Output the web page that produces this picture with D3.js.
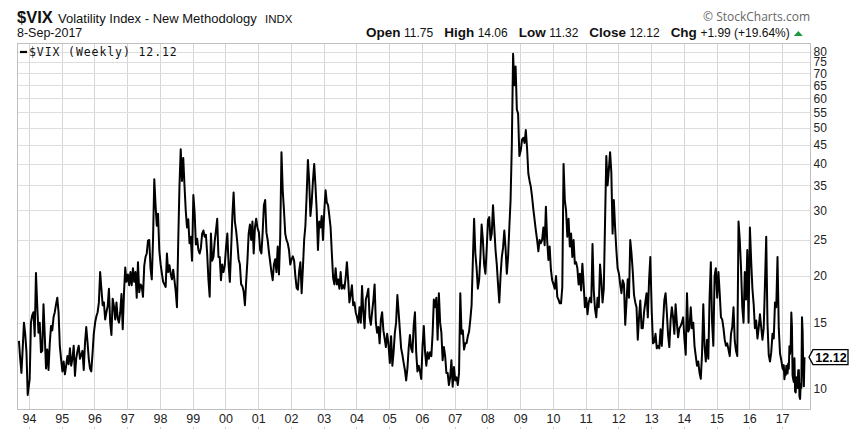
<!DOCTYPE html>
<html>
<head>
<meta charset="utf-8">
<script src="https://cdn.jsdelivr.net/npm/d3@7"></script>
<style>
html,body{margin:0;padding:0;background:#fff;}
svg{display:block;font-family:"Liberation Sans",Arial,sans-serif;}
</style>
</head>
<body>
<svg id="chart" width="862" height="440"></svg>
<script>
// ---- Weekly $VIX closes (biweekly samples; 2017 weekly) ----
const vix1993 = [13.4, 12.0, 11.0, 12.8, 15.0, 14.0, 12.5, 9.6];
const vix1994 = [10.6, 15.0, 15.7, 16.0, 13.8, 20.4, 16.7, 14.1, 15.0, 12.5, 12.6, 16.8, 13.9, 11.3, 12.7, 11.2, 13.2, 14.7, 14.3, 15.5, 16.0, 16.8, 17.5, 16.0, 13.0, 12.0];
const vix1995 = [11.1, 11.8, 10.9, 11.5, 12.2, 11.6, 12.8, 11.5, 12.0, 13.0, 10.8, 12.0, 12.6, 13.0, 12.0, 12.3, 12.6, 11.2, 13.2, 14.6, 13.3, 12.0, 11.3, 11.1, 12.4, 14.0];
const vix1996 = [15.0, 15.6, 16.0, 17.0, 20.5, 18.5, 16.7, 17.0, 15.3, 16.0, 16.6, 18.5, 15.0, 13.9, 17.4, 16.6, 15.3, 17.0, 15.4, 15.0, 16.0, 17.9, 14.4, 18.0, 21.1, 19.3];
const vix1997 = [20.2, 18.9, 20.5, 18.9, 21.0, 19.3, 20.5, 17.5, 21.8, 18.1, 19.0, 18.8, 17.6, 21.3, 22.5, 23.0, 24.9, 25.0, 21.0, 19.6, 25.0, 36.4, 31.0, 27.3, 29.4, 23.4];
const vix1998 = [21.5, 20.3, 19.3, 19.0, 18.7, 23.0, 20.5, 21.4, 20.3, 19.6, 20.8, 19.5, 18.2, 16.5, 24.6, 34.9, 43.8, 36.0, 41.5, 35.0, 30.0, 27.0, 28.4, 24.5, 25.5, 22.0];
const vix1999 = [33.0, 29.6, 24.3, 25.2, 23.5, 23.0, 23.8, 26.0, 26.5, 25.5, 25.8, 23.0, 19.6, 17.6, 26.0, 22.0, 22.5, 24.8, 26.5, 28.5, 22.5, 22.5, 19.5, 21.5, 20.5, 21.3];
const vix2000 = [24.0, 26.0, 21.5, 19.3, 23.5, 29.0, 33.5, 28.0, 26.5, 24.5, 22.2, 21.5, 19.0, 18.8, 18.2, 16.7, 19.3, 22.0, 26.0, 27.5, 25.0, 28.0, 23.0, 27.0, 28.5, 27.0];
const vix2001 = [26.2, 23.5, 23.0, 26.2, 31.0, 32.0, 26.2, 25.0, 23.2, 21.8, 20.5, 19.5, 21.5, 22.2, 20.5, 24.0, 20.2, 25.5, 43.0, 34.0, 30.0, 26.0, 25.0, 24.5, 23.5, 21.5];
const vix2002 = [22.2, 22.6, 22.0, 20.0, 18.6, 18.4, 20.6, 21.8, 18.0, 21.0, 25.0, 27.3, 33.0, 41.0, 36.0, 29.0, 31.5, 36.0, 40.0, 35.0, 30.0, 23.5, 28.0, 27.0, 29.0, 25.0];
const vix2003 = [30.0, 34.0, 31.5, 31.0, 29.0, 27.0, 23.0, 19.8, 19.0, 21.0, 19.0, 19.6, 18.5, 20.5, 18.5, 18.9, 18.5, 19.8, 21.8, 19.5, 17.0, 17.8, 18.9, 16.7, 17.0, 16.0];
const vix2004 = [15.5, 15.0, 16.5, 15.0, 18.8, 16.0, 14.5, 17.3, 17.8, 18.5, 15.5, 14.8, 16.0, 17.2, 19.0, 15.0, 14.1, 14.6, 13.2, 15.3, 16.0, 14.3, 13.6, 12.9, 14.0, 13.2];
const vix2005 = [11.7, 13.8, 11.5, 12.5, 14.1, 15.0, 17.8, 16.0, 14.3, 12.8, 12.3, 11.7, 11.2, 10.5, 11.3, 12.8, 13.9, 12.8, 12.5, 14.7, 16.0, 12.5, 11.1, 11.5, 11.1, 10.6];
const vix2006 = [13.0, 14.7, 12.5, 11.5, 12.5, 12.0, 12.5, 12.2, 14.0, 17.3, 16.5, 17.5, 13.5, 18.0, 15.0, 14.1, 11.9, 12.9, 12.2, 11.0, 11.0, 10.2, 10.7, 11.9, 10.1, 11.4];
const vix2007 = [10.5, 10.7, 10.2, 11.0, 18.0, 14.0, 14.3, 12.7, 13.2, 13.2, 13.8, 14.2, 15.3, 16.7, 22.0, 28.5, 23.0, 21.0, 18.5, 19.5, 22.5, 27.5, 25.0, 21.5, 20.3, 23.5];
const vix2008 = [28.3, 28.8, 25.0, 26.0, 31.0, 27.0, 23.5, 21.5, 19.0, 17.0, 20.0, 22.5, 23.8, 26.5, 23.8, 20.3, 22.5, 27.0, 32.0, 45.0, 79.0, 65.0, 73.0, 56.0, 54.5, 42.0];
const vix2009 = [43.5, 46.5, 47.0, 45.5, 49.3, 44.0, 37.7, 36.0, 34.7, 32.6, 30.2, 28.3, 26.5, 25.0, 23.3, 25.0, 24.5, 25.0, 27.0, 24.2, 30.7, 25.0, 22.1, 24.0, 20.8, 19.5];
const vix2010 = [19.0, 18.5, 20.0, 17.6, 17.3, 16.9, 16.9, 18.7, 40.0, 32.0, 30.0, 25.5, 28.5, 24.0, 26.0, 22.5, 25.0, 21.6, 21.8, 21.0, 19.0, 20.3, 18.3, 21.6, 19.0, 16.5];
const vix2011 = [17.5, 15.8, 17.0, 17.5, 17.0, 24.4, 18.3, 16.3, 15.5, 17.5, 16.5, 21.5, 19.5, 17.0, 18.5, 28.0, 42.0, 35.0, 38.5, 43.0, 38.0, 26.0, 32.0, 27.0, 23.5, 21.0];
const vix2012 = [20.3, 19.0, 18.0, 19.5, 19.0, 14.8, 17.0, 19.6, 17.5, 25.0, 23.0, 20.6, 17.8, 17.0, 16.5, 13.5, 15.5, 17.2, 14.5, 14.5, 16.0, 17.0, 18.0, 15.5, 19.5, 22.5];
const vix2013 = [16.0, 13.2, 13.3, 14.0, 12.8, 13.0, 12.8, 14.4, 13.0, 15.0, 17.2, 18.0, 16.0, 13.9, 12.9, 15.2, 16.5, 15.5, 14.0, 16.8, 15.0, 13.7, 14.5, 14.7, 15.0, 15.5];
const vix2014 = [13.5, 12.3, 18.0, 14.2, 14.5, 16.5, 14.5, 15.0, 13.0, 12.2, 11.5, 11.8, 11.0, 10.6, 12.4, 16.8, 13.0, 11.8, 13.5, 12.0, 17.5, 21.8, 15.0, 13.0, 20.0, 21.0];
const vix2015 = [17.5, 20.5, 18.0, 15.5, 15.3, 14.5, 13.5, 13.0, 13.2, 12.7, 12.2, 14.0, 14.6, 16.5, 13.4, 12.6, 12.2, 28.0, 25.0, 21.0, 16.5, 15.0, 20.5, 17.3, 23.5, 15.0];
const vix2016 = [27.0, 22.0, 18.5, 16.8, 14.5, 15.2, 13.6, 14.5, 15.8, 14.6, 13.5, 14.5, 19.0, 25.5, 15.0, 12.3, 11.8, 12.5, 14.0, 13.6, 17.0, 16.5, 22.5, 14.5, 12.4, 11.9];
const vix2017 = [11.32, 11.23, 11.54, 10.58, 10.97, 10.85, 11.49, 11.47, 10.96, 11.66, 11.28, 12.96, 12.37, 12.87, 15.96, 14.63, 10.82, 10.57, 10.40, 12.04, 9.81, 9.75, 10.70, 10.38, 10.02, 11.18, 11.19, 9.51, 9.36, 10.29, 10.03, 15.51, 14.26, 11.28, 10.13, 12.12];

// sampling calendar: first sample day (days after Jan 1) and spacing in days
const segments = [
  {year: 1993, firstDay: 252, stepDays: 14, values: vix1993},
  {year: 1994, firstDay: 7, stepDays: 14, values: vix1994},
  {year: 1995, firstDay: 7, stepDays: 14, values: vix1995},
  {year: 1996, firstDay: 7, stepDays: 14, values: vix1996},
  {year: 1997, firstDay: 7, stepDays: 14, values: vix1997},
  {year: 1998, firstDay: 7, stepDays: 14, values: vix1998},
  {year: 1999, firstDay: 7, stepDays: 14, values: vix1999},
  {year: 2000, firstDay: 7, stepDays: 14, values: vix2000},
  {year: 2001, firstDay: 7, stepDays: 14, values: vix2001},
  {year: 2002, firstDay: 7, stepDays: 14, values: vix2002},
  {year: 2003, firstDay: 7, stepDays: 14, values: vix2003},
  {year: 2004, firstDay: 7, stepDays: 14, values: vix2004},
  {year: 2005, firstDay: 7, stepDays: 14, values: vix2005},
  {year: 2006, firstDay: 7, stepDays: 14, values: vix2006},
  {year: 2007, firstDay: 7, stepDays: 14, values: vix2007},
  {year: 2008, firstDay: 7, stepDays: 14, values: vix2008},
  {year: 2009, firstDay: 7, stepDays: 14, values: vix2009},
  {year: 2010, firstDay: 7, stepDays: 14, values: vix2010},
  {year: 2011, firstDay: 7, stepDays: 14, values: vix2011},
  {year: 2012, firstDay: 7, stepDays: 14, values: vix2012},
  {year: 2013, firstDay: 7, stepDays: 14, values: vix2013},
  {year: 2014, firstDay: 7, stepDays: 14, values: vix2014},
  {year: 2015, firstDay: 7, stepDays: 14, values: vix2015},
  {year: 2016, firstDay: 7, stepDays: 14, values: vix2016},
  {year: 2017, firstDay: 5, stepDays: 7, values: vix2017}
];

// tick labels
const yearTicks = [1994,1995,1996,1997,1998,1999,2000,2001,2002,2003,2004,2005,2006,2007,2008,2009,2010,2011,2012,2013,2014,2015,2016,2017];
const priceTicks = [10,15,20,25,30,35,40,45,50,55,60,65,70,75,80];

// header values
const symbol = "$VIX";
const fullName = "Volatility Index - New Methodology";
const exchange = "INDX";
const asOf = "8-Sep-2017";
const statLabels = ["Open", "High", "Low", "Close", "Chg"];
const statValues = ["11.75", "14.06", "11.32", "12.12", "+1.99 (+19.64%)"];
const lastClose = 12.12;
const legendText = "$VIX (Weekly) 12.12";

// ---- build ----
const data = [];
segments.forEach(s => {
  s.values.forEach((v, i) => {
    data.push({date: new Date(s.year, 0, 1 + s.firstDay + i * s.stepDays), value: v});
  });
});

const svg = d3.select("#chart");
const plot = {left: 17.5, right: 810.5, top: 43, bottom: 409};

const x = d3.scaleTime()
  .domain([new Date(1993, 7, 25), new Date(2017, 10, 14)])
  .range([plot.left, plot.right]);
const y = d3.scaleLog()
  .domain([8.8, 84.4])
  .range([plot.bottom, plot.top]);

// gridlines
const grid = svg.append("g").attr("shape-rendering", "crispEdges");
grid.selectAll("line.v").data(yearTicks).join("line")
  .attr("class", "v")
  .attr("x1", d => Math.round(x(new Date(d, 0, 1))) + 0.5)
  .attr("x2", d => Math.round(x(new Date(d, 0, 1))) + 0.5)
  .attr("y1", plot.top).attr("y2", plot.bottom)
  .attr("stroke", "#d6d6d6").attr("stroke-width", 1);
grid.selectAll("line.h").data(priceTicks).join("line")
  .attr("class", "h")
  .attr("x1", plot.left).attr("x2", plot.right)
  .attr("y1", d => Math.round(y(d)) + 0.5)
  .attr("y2", d => Math.round(y(d)) + 0.5)
  .attr("stroke", "#dedede").attr("stroke-width", 1);

// frame
svg.append("rect")
  .attr("x", plot.left).attr("y", plot.top)
  .attr("width", plot.right - plot.left).attr("height", plot.bottom - plot.top)
  .attr("fill", "none").attr("stroke", "#c0c0c0").attr("stroke-width", 1)
  .attr("shape-rendering", "crispEdges");

// price line
const line = d3.line().x(d => x(d.date)).y(d => y(d.value));
svg.append("path")
  .datum(data)
  .attr("d", line)
  .attr("fill", "none")
  .attr("stroke", "#000")
  .attr("stroke-width", 2)
  .attr("stroke-linejoin", "round");

// bottom axis (years)
const xAxis = d3.axisBottom(x)
  .tickValues(yearTicks.map(d => new Date(d, 0, 1)))
  .tickFormat(d3.timeFormat("%y"))
  .tickSize(0).tickPadding(5);
const gx = svg.append("g").attr("transform", `translate(0,${plot.bottom})`).call(xAxis);
gx.select(".domain").remove();
gx.selectAll("text").attr("font-size", 12.5).attr("fill", "#222")
  .attr("font-family", '"Liberation Sans", Arial, sans-serif');
// little tick dots below labels
svg.append("g").selectAll("line").data(yearTicks).join("line")
  .attr("x1", d => Math.round(x(new Date(d, 0, 1))) + 0.5)
  .attr("x2", d => Math.round(x(new Date(d, 0, 1))) + 0.5)
  .attr("y1", 427).attr("y2", 429)
  .attr("stroke", "#cfcfcf").attr("stroke-width", 1);

// right axis (price, log)
const yAxis = d3.axisRight(y)
  .tickValues(priceTicks)
  .tickFormat(d3.format("d"))
  .tickSize(0).tickPadding(3);
const gy = svg.append("g").attr("transform", `translate(${plot.right},0)`).call(yAxis);
gy.select(".domain").remove();
gy.selectAll("text").attr("font-size", 12).attr("fill", "#222")
  .attr("font-family", '"Liberation Sans", Arial, sans-serif');

// last value marker
const yc = y(lastClose);
svg.append("path")
  .attr("d", `M${plot.right - 1.5},${yc} L${plot.right + 2.5},${yc - 7.5} L${plot.right + 37.5},${yc - 7.5} L${plot.right + 37.5},${yc + 7.5} L${plot.right + 2.5},${yc + 7.5} Z`)
  .attr("fill", "#fff").attr("stroke", "#000").attr("stroke-width", 1.3);
svg.append("text")
  .attr("x", plot.right + 20.5).attr("y", yc + 4.5)
  .attr("text-anchor", "middle")
  .attr("font-size", 12.5).attr("font-weight", "bold").attr("fill", "#000")
  .text(d3.format(".2f")(lastClose));

// legend
svg.append("line")
  .attr("x1", 20).attr("x2", 27).attr("y1", 52).attr("y2", 52)
  .attr("stroke", "#000").attr("stroke-width", 2.2);
svg.append("text")
  .attr("x", 29).attr("y", 56)
  .attr("font-family", '"DejaVu Sans Mono", monospace')
  .attr("font-size", 11.5).attr("letter-spacing", 0.9)
  .attr("fill", "#111")
  .text(legendText);

// header
svg.append("text").attr("x", 17).attr("y", 22.5)
  .attr("font-size", 16.5).attr("font-weight", "bold").attr("fill", "#111").text(symbol);
svg.append("text").attr("x", 58).attr("y", 22.5)
  .attr("font-size", 13).attr("fill", "#111").text(fullName);
svg.append("text").attr("x", 265).attr("y", 22.5)
  .attr("font-size", 11.5).attr("fill", "#111").text(exchange);
svg.append("text").attr("x", 17).attr("y", 37)
  .attr("font-size", 12.5).attr("fill", "#111").text(asOf);
svg.append("text").attr("x", 810).attr("y", 21)
  .attr("text-anchor", "end")
  .attr("font-family", '"Open Sans", "Liberation Sans", sans-serif')
  .attr("font-size", 12).attr("fill", "#666").text("\u00A9 StockCharts.com");

// stats line: laid out left to right from "Open"
let cx = 366;
statLabels.forEach((l, i) => {
  const lt = svg.append("text").attr("x", cx).attr("y", 37)
    .attr("font-size", 13.5).attr("font-weight", "bold").attr("fill", "#111").text(l);
  cx += lt.node().getComputedTextLength() + 3.5;
  const vt = svg.append("text").attr("x", cx).attr("y", 37)
    .attr("font-size", 12).attr("fill", "#111").text(statValues[i]);
  cx += vt.node().getComputedTextLength() + 11;
});
const triX = cx - 11 + 4;
svg.append("path")
  .attr("d", `M${triX},36 L${triX + 4.5},31 L${triX + 9},36 Z`)
  .attr("fill", "#1a9a3a");
</script>
</body>
</html>
